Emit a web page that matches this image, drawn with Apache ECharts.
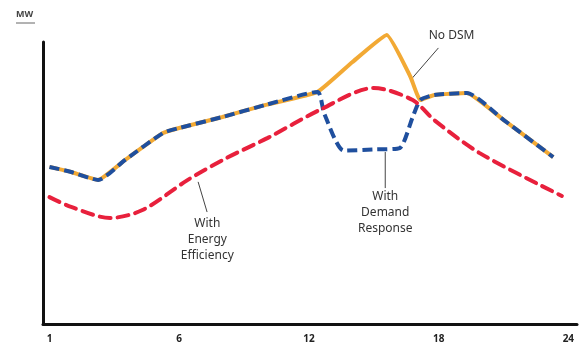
<!DOCTYPE html>
<html lang="en">
<head>
    <meta charset="UTF-8">
    <title>DSM load curve</title>
    <script src="https://cdn.jsdelivr.net/npm/echarts@6/dist/echarts.min.js"></script>
    <style>
        * { margin: 0; padding: 0; }
        #chart { width: 581px; height: 349px; background: #fff; }
    </style>
</head>
<body>
    <div id="chart"></div>
    <script type="text/javascript">
        // hour of day (0 = first hour shown as "1") and load in MW (arbitrary units)
        var noDsmHours = [0, 1, 2.25, 3.5, 5.25, 6, 8, 10, 12.4, 14, 15.6, 16.7, 17.15, 17.8, 19.3, 21, 23.3];
        var noDsmMW = [55.7, 53.9, 51.1, 58.2, 67.7, 69.5, 73.4, 77.7, 82.3, 92.8, 102.5, 87.6, 79.4, 81.2, 81.9, 72.4, 59.2];

        var drHours = [0, 1, 2.25, 3.5, 5.25, 6, 8, 10, 12.4, 12.7, 13.6, 15, 16.2, 16.8, 17.15, 17.8, 19.3, 21, 23.3];
        var drMW = [55.7, 53.9, 51.1, 58.2, 67.7, 69.5, 73.4, 77.7, 82.3, 74.8, 61.5, 61.9, 62.4, 73.4, 79.4, 81.2, 81.9, 72.4, 59.2];

        var eeHours = [0, 1, 2.8, 4.3, 6.4, 8.2, 10.1, 12.5, 15, 16.8, 17.8, 19.9, 23.7];
        var eeMW = [45.0, 41.5, 37.6, 40.4, 51.1, 58.9, 66.0, 75.9, 83.7, 79.4, 72.3, 60.6, 45.4];

        var tickHours = [0, 6, 12, 18, 24];
        var tickLabels = ['1', '6', '12', '18', '24'];

        function pairs(xs, ys) {
            return xs.map(function (x, i) { return [x, ys[i]]; });
        }

        var chart = echarts.init(document.getElementById('chart'));

        var option = {
            backgroundColor: '#fff',
            animation: false,
            grid: { left: 43, right: 4, top: 42, bottom: 25 },
            xAxis: {
                type: 'value',
                min: -0.3,
                max: 24.4,
                axisLine: { show: true, lineStyle: { color: '#111', width: 3 } },
                axisTick: { show: false },
                splitLine: { show: false },
                axisLabel: {
                    customValues: tickHours,
                    margin: 10,
                    color: '#222',
                    fontSize: 10,
                    fontWeight: 'bold',
                    fontFamily: 'Noto Sans',
                    formatter: function (v) {
                        return tickLabels[tickHours.indexOf(v)];
                    }
                }
            },
            yAxis: {
                type: 'value',
                min: 0,
                max: 100,
                axisLine: { show: true, onZero: false, lineStyle: { color: '#111', width: 3 } },
                axisTick: { show: false },
                axisLabel: { show: false },
                splitLine: { show: false }
            },
            series: [{
                name: 'No DSM',
                type: 'line',
                smooth: 0.12,
                clip: false,
                showSymbol: false,
                data: pairs(noDsmHours, noDsmMW),
                lineStyle: { color: '#F2A934', width: 4 }
            }, {
                name: 'With Demand Response',
                type: 'line',
                smooth: 0.2,
                clip: false,
                showSymbol: false,
                data: pairs(drHours, drMW),
                lineStyle: { color: '#1F4F9E', width: 4, type: [10, 5] }
            }, {
                name: 'With Energy Efficiency',
                type: 'line',
                smooth: 0.3,
                clip: false,
                showSymbol: false,
                data: pairs(eeHours, eeMW),
                lineStyle: { color: '#E8203C', width: 4, type: [11, 7], cap: 'round' }
            }]
        };

        chart.setOption(option);

        // annotations anchored in data coordinates
        function px(h, v) {
            return chart.convertToPixel({ gridIndex: 0 }, [h, v]);
        }

        var txt = { fill: '#333', fontSize: 12, fontFamily: 'Noto Sans', align: 'center', lineHeight: 16 };

        var a1 = px(17.99, 97.9), b1 = px(16.78, 87.2), t1 = px(18.6, 102.1);
        var a2 = px(15.53, 61.0), b2 = px(15.53, 48.2), t2 = px(15.53, 48.0);
        var a3 = px(6.875, 50.4), b3 = px(7.29, 39.7), t3 = px(7.3, 38.5);

        chart.setOption({
            graphic: [
                { type: 'text', left: 16, top: 10, style: { text: 'MW', fill: '#444', fontSize: 9, fontWeight: 'bold', fontFamily: 'Noto Sans' } },
                { type: 'line', shape: { x1: 16, y1: 23, x2: 35, y2: 23 }, style: { stroke: '#666', lineWidth: 1 } },

                { type: 'line', shape: { x1: a1[0], y1: a1[1], x2: b1[0], y2: b1[1] }, style: { stroke: '#444', lineWidth: 1 } },
                { type: 'text', x: t1[0], y: t1[1], style: Object.assign({ text: 'No DSM', verticalAlign: 'middle' }, txt) },

                { type: 'line', shape: { x1: a2[0], y1: a2[1], x2: b2[0], y2: b2[1] }, style: { stroke: '#444', lineWidth: 1 } },
                { type: 'text', x: t2[0], y: t2[1], style: Object.assign({ text: 'With\nDemand\nResponse', verticalAlign: 'top' }, txt) },

                { type: 'line', shape: { x1: a3[0], y1: a3[1], x2: b3[0], y2: b3[1] }, style: { stroke: '#444', lineWidth: 1 } },
                { type: 'text', x: t3[0], y: t3[1], style: Object.assign({ text: 'With\nEnergy\nEfficiency', verticalAlign: 'top' }, txt) }
            ]
        });
    </script>
</body>
</html>
